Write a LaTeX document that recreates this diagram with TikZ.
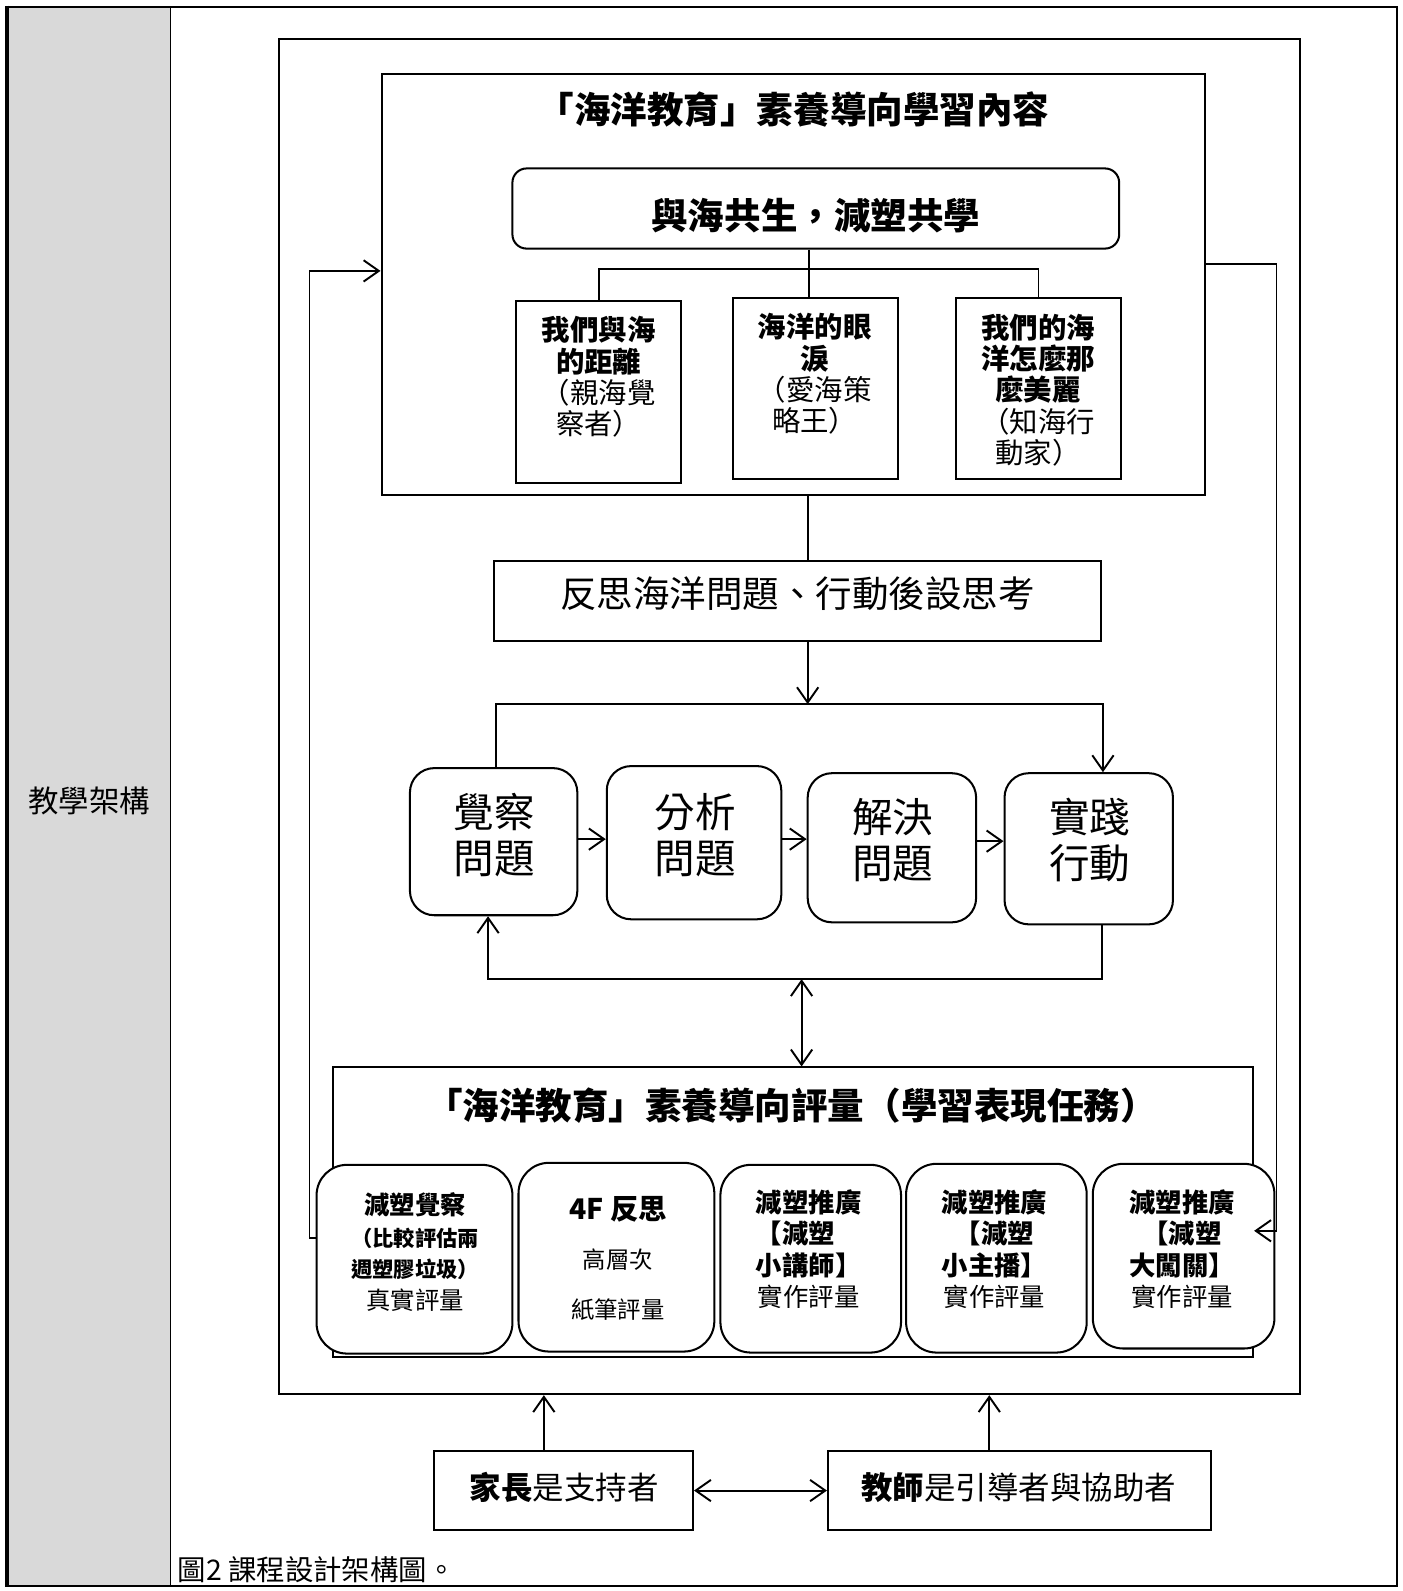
\documentclass[tikz,border=0pt]{standalone}
\usepackage{fontspec}
\setmainfont{Noto Sans CJK TC}
\usetikzlibrary{arrows.meta}
\newcommand\myfs[2]{\fontsize{#1pt}{#2pt}\selectfont}
\definecolor{tabgray}{HTML}{D9D9D9}
\begin{document}
\begin{tikzpicture}[x=1pt,y=-1pt,
  box/.style={draw, line width=2pt, rectangle, inner sep=0pt, fill=white},
  rbox/.style={box, rounded corners=#1},
  rbox/.default=22pt,
  txt/.style={inner sep=0pt, align=center},
  conn/.style={line width=1.9pt},
  arr/.style={conn, -{Straight Barb[length=15pt,width=21pt]}},
  dbl/.style={conn, {Straight Barb[length=15pt,width=21pt]}-{Straight Barb[length=15pt,width=21pt]}}
]
\useasboundingbox (0,0) rectangle (1382,1568);
% table
\fill[tabgray] (9,7) rectangle (168,1563);
\draw[line width=1.8pt] (7,7) rectangle (1377,1563);
\draw[line width=3.5pt] (7,5.5) -- (7,1564.5);
\draw[line width=1.8pt] (168,7) -- (168,1563);
\node[txt, font=\myfs{30}{36}] (lbl) at (88,789) {教學架構};

% big frame
\node[box, minimum width=1006pt, minimum height=1336pt] (frame) at (778,706) {};

% learning content box
\node[box, minimum width=812pt, minimum height=415pt] (a) at (782,280.5) {};
\node[txt, font=\bfseries\myfs{36}{40}] (atitle) at (782,108) {「海洋教育」素養導向學習內容};
\node[rbox=14pt, minimum width=598pt, minimum height=79pt] (b) at (804,205.5) {};
\node[txt, font=\bfseries\myfs{36}{40}] (bt) at (804,212) {與海共生，減塑共學};

\node[box, minimum width=162pt, minimum height=179pt] (c1) at (590,386.5) {};
\node[txt, font=\myfs{28}{31}] (c1t) at (590,371.5) {\textbf{我們與海}\\\textbf{的距離}\\（親海覺\\察者）};
\node[box, minimum width=163pt, minimum height=178pt] (c2) at (803.5,383) {};
\node[txt, font=\myfs{28}{31}] (c2t) at (803,368.5) {\textbf{海洋的眼}\\\textbf{淚}\\（愛海策\\略王）};
\node[box, minimum width=163pt, minimum height=178pt] (c3) at (1023.5,383) {};
\node[txt, font=\myfs{28}{31}] (c3t) at (1023,384.5) {\textbf{我們的海}\\\textbf{洋怎麼那}\\\textbf{麼美麗}\\（知海行\\動家）};

\coordinate (jb) at (797,265);
\draw[conn] (jb |- b.south) -- (jb |- c2.north);
\draw[conn] (c1.north) -- (c1.north |- jb) -- (c3.north |- jb) -- (c3.north);

% reflection box
\node[box, minimum width=598pt, minimum height=79pt] (d) at (786,592.5) {};
\node[txt, font=\myfs{36}{40}] (dt) at (786,585) {反思海洋問題、行動後設思考};
\coordinate (jad) at (796,520);
\draw[conn] (jad |- a.south) -- (jad |- d.north);

% process boxes
\node[rbox=24pt, minimum width=165pt, minimum height=145pt] (e1) at (486.5,829.5) {};
\node[txt, font=\myfs{40}{46}] (e1t) at (487,823) {覺察\\問題};
\node[rbox=24pt, minimum width=172pt, minimum height=151pt] (e2) at (684,830.5) {};
\node[txt, font=\myfs{40}{46}] (e2t) at (685,823) {分析\\問題};
\node[rbox=24pt, minimum width=166pt, minimum height=147pt] (e3) at (879,835.5) {};
\node[txt, font=\myfs{40}{46}] (e3t) at (880,828) {解決\\問題};
\node[rbox=24pt, minimum width=166pt, minimum height=149pt] (e4) at (1073,836.5) {};
\node[txt, font=\myfs{40}{46}] (e4t) at (1074,828) {實踐\\行動};

\coordinate (tl) at (489,694);
\coordinate (tr) at (1087,694);
\draw[arr] (jad |- d.south) -- (jad |- tl);
\draw[arr] (tl |- e1.north) -- (tl) -- (tr) -- (tr |- e4.north);
\coordinate (ye) at (0,827);
\draw[arr] (e1.east |- ye) -- (e2.west |- ye);
\draw[arr] (e2.east |- ye) -- (e3.west |- ye);
\coordinate (ye2) at (0,829);
\draw[arr] (e3.east |- ye2) -- (e4.west |- ye2);
\coordinate (br) at (1086,965);
\coordinate (bl) at (481,965);
\draw[arr] (br |- e4.south) -- (br) -- (bl) -- (bl |- e1.south);

% assessment box
\node[box, minimum width=907pt, minimum height=285pt] (f) at (781.5,1194.5) {};
\node[txt, font=\bfseries\myfs{36}{40}] (ft) at (780,1090) {「海洋教育」素養導向評量（學習表現任務）};
\coordinate (mid) at (790,965);
\draw[dbl] (mid) -- (mid |- f.north);

\node[rbox=30pt, minimum width=193pt, minimum height=186pt] (g1) at (408.5,1241) {};
\node[txt, font=\myfs{25}{31}] (g1t) at (409,1234) {\textbf{減塑覺察}\\{\bfseries\myfs{21}{31}（比較評估兩}\\{\bfseries\myfs{21}{31}週塑膠垃圾）}\\{\myfs{24}{31}真實評量}};
\node[rbox=30pt, minimum width=193pt, minimum height=186pt] (g2) at (607.5,1239) {};
\node[txt, font=\myfs{23}{49}] (g2t) at (609,1240) {{\bfseries\myfs{28}{49}4F 反思}\\高層次\\紙筆評量};
\node[rbox=30pt, minimum width=178pt, minimum height=185pt] (g3) at (799,1240.5) {};
\node[txt, font=\myfs{26}{31}] (g3t) at (797,1231) {\textbf{減塑推廣}\\\textbf{【減塑\phantom{塑}}\\\textbf{小講師】}\\{\myfs{25}{31}實作評量}};
\node[rbox=30pt, minimum width=178pt, minimum height=186pt] (g4) at (982,1240) {};
\node[txt, font=\myfs{26}{31}] (g4t) at (980,1231) {\textbf{減塑推廣}\\\textbf{【減塑}\\\textbf{小主播】}\\{\myfs{25}{31}實作評量}};
\node[rbox=30pt, minimum width=179pt, minimum height=182pt] (g5) at (1166.5,1238) {};
\node[txt, font=\myfs{26}{31}] (g5t) at (1165,1231) {\textbf{減塑推廣}\\\textbf{【減塑}\\\textbf{大闖關】}\\{\myfs{25}{31}實作評量}};

% loops
\coordinate (ll1) at (305,1220);
\coordinate (ll2) at (305,267);
\draw[arr] (g1.west |- ll1) -- (ll1) -- (ll2) -- (ll2 -| a.west);
\coordinate (rl1) at (1258,260);
\coordinate (rl2) at (1258,1213);
\coordinate (tipr) at (1236,1213);
\draw[arr] (a.east |- rl1) -- (rl1) -- (rl2) -- (tipr);

% supporters
\node[box, minimum width=255pt, minimum height=78pt] (h1) at (555.5,1469) {};
\node[txt, font=\myfs{31}{36}] (h1t) at (556,1466) {\textbf{家長}是支持者};
\node[box, minimum width=377pt, minimum height=78pt] (h2) at (1004.5,1469) {};
\node[txt, font=\myfs{31}{36}] (h2t) at (1004,1466) {\textbf{教師}是引導者與協助者};
\coordinate (hx1) at (536,1400);
\coordinate (hx2) at (975,1400);
\draw[arr] (hx1 |- h1.north) -- (hx1 |- frame.south);
\draw[arr] (hx2 |- h2.north) -- (hx2 |- frame.south);
\draw[dbl] (h1.east) -- (h2.west);

\node[txt, anchor=west, font=\myfs{28}{32}] (cap) at (175,1547) {圖2 課程設計架構圖。};
\end{tikzpicture}
\end{document}
